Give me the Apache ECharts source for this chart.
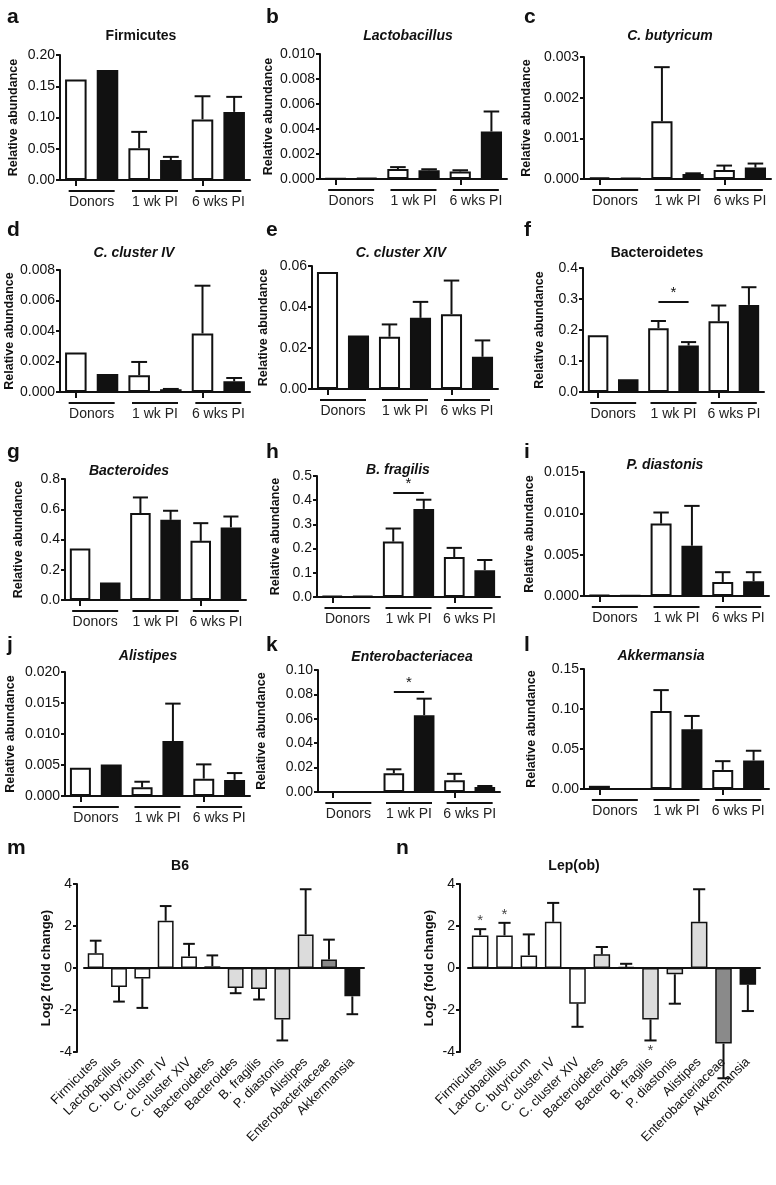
<!DOCTYPE html>
<html><head><meta charset="utf-8">
<script src="https://cdn.jsdelivr.net/npm/echarts@6/dist/echarts.min.js"></script>
<style>html,body{margin:0;padding:0;background:#fff}#c{width:776px;height:1185px}</style>
</head><body><div id="c"></div>
<script>
// ---------- DATA ----------
const groupLabels = ['Donors', '1 wk PI', '6 wks PI'];
const barCategories = ['Donors open', 'Donors filled', '1 wk PI open', '1 wk PI filled', '6 wks PI open', '6 wks PI filled'];

const firmicutesMean = [0.161, 0.176, 0.051, 0.032, 0.097, 0.109];
const firmicutesErr = [null, null, 0.077, 0.037, 0.134, 0.133];
const firmicutesTicks = [0, 0.05, 0.10, 0.15, 0.20];

const lactobacillusMean = [0.00003, 0.0001, 0.0008, 0.0007, 0.0006, 0.0038];
const lactobacillusErr = [null, null, 0.00095, 0.00078, 0.0007, 0.0054];
const lactobacillusTicks = [0, 0.002, 0.004, 0.006, 0.008, 0.010];

const butyricumMean = [0.00004, 0.00003, 0.00142, 0.00012, 0.00022, 0.00028];
const butyricumErr = [null, null, 0.00275, 0.00014, 0.00033, 0.00038];
const butyricumTicks = [0, 0.001, 0.002, 0.003];

const clusterIVMean = [0.00259, 0.00118, 0.0011, 0.00018, 0.00384, 0.0007];
const clusterIVErr = [null, null, 0.00197, 0.0002, 0.00697, 0.00092];
const clusterIVTicks = [0, 0.002, 0.004, 0.006, 0.008];

const clusterXIVMean = [0.0571, 0.0261, 0.0255, 0.0347, 0.0365, 0.0157];
const clusterXIVErr = [null, null, 0.0315, 0.0425, 0.0529, 0.0237];
const clusterXIVTicks = [0, 0.02, 0.04, 0.06];

const bacteroidetesMean = [0.183, 0.041, 0.206, 0.150, 0.228, 0.281];
const bacteroidetesErr = [null, null, 0.229, 0.161, 0.279, 0.338];
const bacteroidetesTicks = [0, 0.1, 0.2, 0.3, 0.4];
const bacteroidetesSig = [2, 3, 0.292];

const bacteroidesMean = [0.340, 0.115, 0.575, 0.530, 0.391, 0.480];
const bacteroidesErr = [null, null, 0.678, 0.590, 0.508, 0.552];
const bacteroidesTicks = [0, 0.2, 0.4, 0.6, 0.8];

const fragilisMean = [0.004, 0.004, 0.229, 0.364, 0.165, 0.111];
const fragilisErr = [null, null, 0.283, 0.402, 0.203, 0.153];
const fragilisTicks = [0, 0.1, 0.2, 0.3, 0.4, 0.5];
const fragilisSig = [2, 3, 0.432];

const diastonisMean = [0.0001, 0.00005, 0.00876, 0.00608, 0.0017, 0.00178];
const diastonisErr = [null, null, 0.0101, 0.0109, 0.00288, 0.00288];
const diastonisTicks = [0, 0.005, 0.010, 0.015];

const alistipesMean = [0.00457, 0.0051, 0.0014, 0.00887, 0.0028, 0.0026];
const alistipesErr = [null, null, 0.0023, 0.0149, 0.0051, 0.0037];
const alistipesTicks = [0, 0.005, 0.010, 0.015, 0.020];

const enteroMean = [0.0002, 0.0002, 0.0154, 0.063, 0.0097, 0.004];
const enteroErr = [null, null, 0.0186, 0.0765, 0.0149, 0.0049];
const enteroTicks = [0, 0.02, 0.04, 0.06, 0.08, 0.10];
const enteroSig = [2, 3, 0.0822];

const akkermansiaMean = [0.004, 0.0003, 0.0976, 0.0746, 0.0239, 0.0356];
const akkermansiaErr = [null, null, 0.1236, 0.0913, 0.0348, 0.0478];
const akkermansiaTicks = [0, 0.05, 0.10, 0.15];

const taxa = ['Firmicutes', 'Lactobacillus', 'C. butyricum', 'C. cluster IV', 'C. cluster XIV', 'Bacteroidetes',
  'Bacteroides', 'B. fragilis', 'P. diastonis', 'Alistipes', 'Enterobacteriaceae', 'Akkermansia'];
const taxaPhylum = ['F', 'F', 'F', 'F', 'F', 'B', 'B', 'B', 'B', 'B', 'P', 'V'];
const log2Ticks = [-4, -2, 0, 2, 4];

const b6Mean = [0.7, -0.9, -0.5, 2.25, 0.55, 0.08, -0.95, -1.0, -2.45, 1.6, 0.4, -1.35];
const b6Err = [1.3, -1.6, -1.9, 2.95, 1.15, 0.6, -1.2, -1.5, -3.45, 3.75, 1.35, -2.2];

const lepMean = [1.55, 1.55, 0.6, 2.2, -1.7, 0.65, 0.05, -2.45, -0.3, 2.2, -3.6, -0.8];
const lepErr = [1.85, 2.15, 1.6, 3.1, -2.8, 1.0, 0.2, -3.45, -1.7, 3.75, -5.25, -2.05];
const lepStars = [[0, 2.25], [1, 2.55], [7, -3.95]];

// ---------- STYLE / LAYOUT ----------
const FONT = '"Liberation Sans", Arial, Helvetica, sans-serif';
const INK = '#111';
const phylumColor = { F: '#ffffff', B: '#dcdcdc', P: '#8a8a8a', V: '#111111' };

const topPanels = [
  { letter: 'a', title: 'Firmicutes', italic: false, mean: firmicutesMean, err: firmicutesErr, ticks: firmicutesTicks, dec: 2, box: [60, 55, 190, 125], gap: 40, t: [141, 36], l: [7, 17] },
  { letter: 'b', title: 'Lactobacillus', italic: true, mean: lactobacillusMean, err: lactobacillusErr, ticks: lactobacillusTicks, dec: 3, box: [320, 54, 187, 125], gap: 45, t: [408, 36], l: [266, 17] },
  { letter: 'c', title: 'C. butyricum', italic: true, mean: butyricumMean, err: butyricumErr, ticks: butyricumTicks, dec: 3, box: [584, 57, 187, 122], gap: 51, t: [670, 36], l: [524, 17] },
  { letter: 'd', title: 'C. cluster IV', italic: true, mean: clusterIVMean, err: clusterIVErr, ticks: clusterIVTicks, dec: 3, box: [60, 270, 190, 122], gap: 40, t: [134, 253], l: [7, 230] },
  { letter: 'e', title: 'C. cluster XIV', italic: true, mean: clusterXIVMean, err: clusterXIVErr, ticks: clusterXIVTicks, dec: 2, box: [312, 266, 186, 123], gap: 42, t: [401, 253], l: [266, 230] },
  { letter: 'f', title: 'Bacteroidetes', italic: false, mean: bacteroidetesMean, err: bacteroidetesErr, ticks: bacteroidetesTicks, dec: 1, sig: bacteroidetesSig, box: [583, 268, 181, 124], gap: 37, t: [657, 253], l: [524, 230] },
  { letter: 'g', title: 'Bacteroides', italic: true, mean: bacteroidesMean, err: bacteroidesErr, ticks: bacteroidesTicks, dec: 1, box: [65, 479, 181, 121], gap: 40, t: [129, 471], l: [7, 452] },
  { letter: 'h', title: 'B. fragilis', italic: true, mean: fragilisMean, err: fragilisErr, ticks: fragilisTicks, dec: 1, sig: fragilisSig, box: [317, 476, 183, 121], gap: 35, t: [398, 470], l: [266, 452] },
  { letter: 'i', title: 'P. diastonis', italic: true, mean: diastonisMean, err: diastonisErr, ticks: diastonisTicks, dec: 3, box: [584, 472, 185, 124], gap: 48, t: [665, 465], l: [524, 452] },
  { letter: 'j', title: 'Alistipes', italic: true, mean: alistipesMean, err: alistipesErr, ticks: alistipesTicks, dec: 3, box: [65, 672, 185, 124], gap: 48, t: [148, 656], l: [7, 645] },
  { letter: 'k', title: 'Enterobacteriacea', italic: true, mean: enteroMean, err: enteroErr, ticks: enteroTicks, dec: 2, sig: enteroSig, box: [318, 670, 182, 122], gap: 50, t: [412, 657], l: [266, 645] },
  { letter: 'l', title: 'Akkermansia', italic: true, mean: akkermansiaMean, err: akkermansiaErr, ticks: akkermansiaTicks, dec: 2, box: [584, 669, 185, 120], gap: 46, t: [661, 656], l: [524, 645] }
];

const bottomPanels = [
  { letter: 'm', title: 'B6', mean: b6Mean, err: b6Err, box: [84, 884, 280, 168], offset: 7, gap: 24, t: [180, 866], l: [7, 848] },
  { letter: 'n', title: 'Lep(ob)', mean: lepMean, err: lepErr, stars: lepStars, box: [468, 884, 292, 168], offset: 8, gap: 24, t: [574, 866], l: [396, 848] }
];

const option = { animation: false, grid: [], xAxis: [], yAxis: [], series: [], graphic: [] };

function errorBarSeries(xi, yi, mean, err) {
  const data = [];
  mean.forEach((m, i) => { if (err[i] !== null) data.push([i, m, err[i]]); });
  return {
    type: 'custom', xAxisIndex: xi, yAxisIndex: yi, z: 5, silent: true,
    data: data,
    encode: { x: 0, y: [1, 2] },
    renderItem: function (params, api) {
      const x = api.value(0), m = api.value(1), u = api.value(2);
      const p0 = api.coord([x, m]), p1 = api.coord([x, u]);
      const half = api.size([1, 0])[0] * 0.25;
      return {
        type: 'group', children: [
          { type: 'line', shape: { x1: p0[0], y1: p0[1], x2: p1[0], y2: p1[1] }, style: { stroke: INK, lineWidth: 2 } },
          { type: 'line', shape: { x1: p1[0] - half, y1: p1[1], x2: p1[0] + half, y2: p1[1] }, style: { stroke: INK, lineWidth: 2 } }
        ]
      };
    }
  };
}

function addText(x, y, text, size, weight, style, align) {
  option.graphic.push({
    type: 'text', x: x, y: y, silent: true,
    style: { text: text, fontFamily: FONT, fontSize: size, fontWeight: weight, fontStyle: style || 'normal', fill: INK, align: align || 'center', verticalAlign: 'middle' }
  });
}

topPanels.forEach((p, gi) => {
  const [left, top, width, height] = p.box;
  option.grid.push({ left: left, top: top, width: width, height: height, containLabel: false });
  const ticks = p.ticks;
  option.yAxis.push({
    type: 'value', gridIndex: gi, min: ticks[0], max: ticks[ticks.length - 1], interval: ticks[1] - ticks[0],
    name: 'Relative abundance', nameLocation: 'middle', nameGap: p.gap,
    nameTextStyle: { fontFamily: FONT, fontSize: 12.5, fontWeight: 'bold', color: INK },
    axisLine: { show: true, lineStyle: { color: INK, width: 2 } },
    axisTick: { show: true, length: 4, lineStyle: { color: INK, width: 2 } },
    axisLabel: { fontFamily: FONT, fontSize: 14, color: INK, margin: 5, formatter: v => v.toFixed(p.dec) },
    splitLine: { show: false }
  });
  option.xAxis.push({
    type: 'category', gridIndex: gi, data: barCategories, position: 'bottom',
    axisLine: { show: true, onZero: false, lineStyle: { color: INK, width: 2 } },
    axisTick: { show: true, alignWithLabel: true, length: 6, lineStyle: { color: INK, width: 2 } },
    axisLabel: { show: false }, splitLine: { show: false }
  });
  option.xAxis.push({
    type: 'category', gridIndex: gi, data: groupLabels, position: 'bottom',
    axisLine: { show: false }, axisTick: { show: false }, splitLine: { show: false },
    axisLabel: {
      margin: 10, interval: 0,
      formatter: v => '{u| }\n{t|' + v + '}',
      rich: {
        u: { width: 46, height: 2, lineHeight: 2, backgroundColor: INK, fontSize: 2 },
        t: { fontFamily: FONT, fontSize: 14, color: '#222', lineHeight: 18, padding: [3, 0, 0, 0] }
      }
    }
  });
  const barSeries = {
    type: 'bar', xAxisIndex: 2 * gi, yAxisIndex: gi, barWidth: '68%',
    data: p.mean.map((v, i) => ({ value: v, itemStyle: { color: i % 2 ? INK : '#fff', borderColor: INK, borderWidth: 2 } })),
    silent: true
  };
  if (p.sig) {
    barSeries.markLine = {
      silent: true, symbol: ['none', 'none'],
      lineStyle: { color: INK, width: 2, type: 'solid' },
      label: { show: true, position: 'insideMiddleTop', formatter: '*', fontFamily: FONT, fontSize: 15, color: INK, distance: 1 },
      data: [[{ coord: [p.sig[0], p.sig[2]] }, { coord: [p.sig[1], p.sig[2]] }]]
    };
  }
  option.series.push(barSeries);
  option.series.push(errorBarSeries(2 * gi, gi, p.mean, p.err));
  addText(p.t[0], p.t[1], p.title, 14, 'bold', p.italic ? 'italic' : 'normal');
  addText(p.l[0], p.l[1], p.letter, 21, 'bold', 'normal', 'left');
});

bottomPanels.forEach((p, k) => {
  const gi = topPanels.length + k;
  const [left, top, width, height] = p.box;
  option.grid.push({ left: left, top: top, width: width, height: height, containLabel: false });
  option.yAxis.push({
    type: 'value', gridIndex: gi, min: log2Ticks[0], max: log2Ticks[log2Ticks.length - 1], interval: log2Ticks[1] - log2Ticks[0],
    offset: p.offset,
    name: 'Log2 (fold change)', nameLocation: 'middle', nameGap: p.gap,
    nameTextStyle: { fontFamily: FONT, fontSize: 13, fontWeight: 'bold', color: INK },
    axisLine: { show: true, onZero: false, lineStyle: { color: INK, width: 2 } },
    axisTick: { show: true, length: 4, lineStyle: { color: INK, width: 2 } },
    axisLabel: { fontFamily: FONT, fontSize: 14, color: INK, margin: 5 },
    splitLine: { show: false }
  });
  const xi = option.xAxis.length;
  option.xAxis.push({
    type: 'category', gridIndex: gi, data: taxa, position: 'bottom',
    axisLine: { show: true, onZero: true, lineStyle: { color: INK, width: 2 } },
    axisTick: { show: false },
    axisLabel: { show: false }, splitLine: { show: false }
  });
  option.xAxis.push({
    type: 'category', gridIndex: gi, data: taxa, position: 'bottom',
    axisLine: { show: false, onZero: false }, axisTick: { show: false }, splitLine: { show: false },
    axisLabel: { interval: 0, rotate: 45, margin: 8, fontFamily: FONT, fontSize: 13, color: INK }
  });
  option.series.push({
    type: 'bar', xAxisIndex: xi, yAxisIndex: gi, barWidth: '68%', silent: true,
    data: p.mean.map((v, i) => ({ value: v, itemStyle: { color: phylumColor[taxaPhylum[i]], borderColor: INK, borderWidth: 1.5 } }))
  });
  option.series.push(errorBarSeries(xi, gi, p.mean, p.err));
  if (p.stars) {
    option.series.push({
      type: 'scatter', xAxisIndex: xi, yAxisIndex: gi, symbolSize: 0, silent: true, data: p.stars,
      label: { show: true, position: 'inside', formatter: '*', fontFamily: FONT, fontSize: 15, color: INK }
    });
  }
  addText(p.t[0], p.t[1], p.title, 14, 'bold', 'normal');
  addText(p.l[0], p.l[1], p.letter, 21, 'bold', 'normal', 'left');
});

const chart = echarts.init(document.getElementById('c'), null, { renderer: 'canvas' });
chart.setOption(option);
</script></body></html>
